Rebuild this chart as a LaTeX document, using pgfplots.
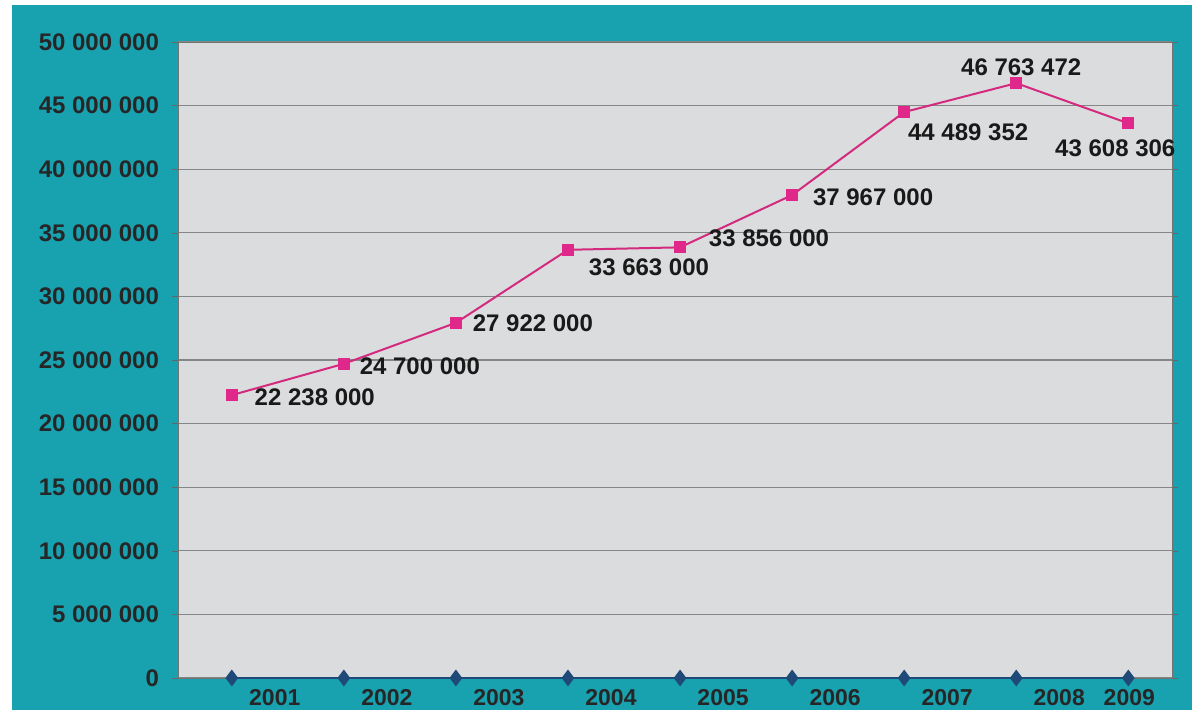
\documentclass[border=0pt]{standalone}
\usepackage{pgfplots}
\usepackage{pgfplotstable}
\pgfplotsset{compat=1.18}
\usepackage{fontspec}
\setmainfont{Liberation Sans}
\definecolor{tealbg}{HTML}{18A2B0}
\definecolor{plotbg}{HTML}{DADCDE}
\definecolor{linepink}{HTML}{D42A7E}
\definecolor{markpink}{HTML}{E0288A}
\definecolor{navy}{HTML}{1F4A78}
\definecolor{gridgrey}{HTML}{858585}

\pgfplotstableread[col sep=comma]{
x,y,dx,dy,lab
0,22238000,41.5,-1,22 238 000
1,24700000,38,-1,24 700 000
2,27922000,38.5,0,27 922 000
3,33663000,40.5,-8.5,33 663 000
4,33856000,44.5,4.5,33 856 000
5,37967000,40.5,-1,37 967 000
6,44489352,32,-10,44 489 352
7,46763472,2.5,8,46 763 472
8,43608306,-6.5,-12.5,43 608 306
}\visitors

\begin{document}
\begin{tikzpicture}
\useasboundingbox (-89pt,-18.5pt) rectangle (511.5pt,339pt);
\fill[white] (-89pt,-18.5pt) rectangle (511.5pt,339pt);
\fill[tealbg] (-83pt,-16pt) rectangle (507pt,336.5pt);
\begin{axis}[
scale only axis,
width=497pt,
height=318pt,
clip=false,
axis background/.style={fill=plotbg},
axis line style={draw=black!55},
xmin=-0.48, xmax=8.39,
ymin=0, ymax=50000000,
xtick={0,...,8},
xticklabels={2001,2002,2003,2004,2005,2006,2007,2008,{\kern-21pt 2009\kern21pt}},
xtick style={draw=none},
ytick={0,5000000,10000000,15000000,20000000,25000000,30000000,35000000,40000000,45000000,50000000},
scaled y ticks=false,
tick align=outside,
major tick length=3pt,
ytick style={draw=black!60},
ymajorgrids,
grid style={gridgrey, line width=0.6pt},
/pgf/number format/.cd, fixed, precision=0, 1000 sep={\ }, assume math mode=true,
/pgfplots/.cd,
ticklabel style={font=\bfseries\fontsize{12}{14}\selectfont, text=black!85},
yticklabel style={xshift=-3pt},
xticklabel style={xshift=21.5pt, yshift=1pt, font=\bfseries\fontsize{11.5}{14}\selectfont},
]
% values shown in the chart
\addplot[linepink, line width=1pt, mark=square*, mark size=2.5pt,
  mark options={markpink},
  point meta=explicit symbolic,
  visualization depends on={\thisrow{dx}\as\dx},
  visualization depends on={\thisrow{dy}\as\dy},
  nodes near coords,
  nodes near coords style={anchor=center, xshift=\dx pt, yshift=\dy pt,
    font=\bfseries\fontsize{12}{14}\selectfont, text=black!90},
] table[x=x, y=y, meta=lab] {\visitors};
% second series sitting on the baseline
\addplot[navy, line width=1pt, mark=diamond*, mark size=3.4pt] coordinates {
(0,0) (1,0) (2,0) (3,0) (4,0) (5,0) (6,0) (7,0) (8,0)
};
\end{axis}
\end{tikzpicture}
\end{document}
